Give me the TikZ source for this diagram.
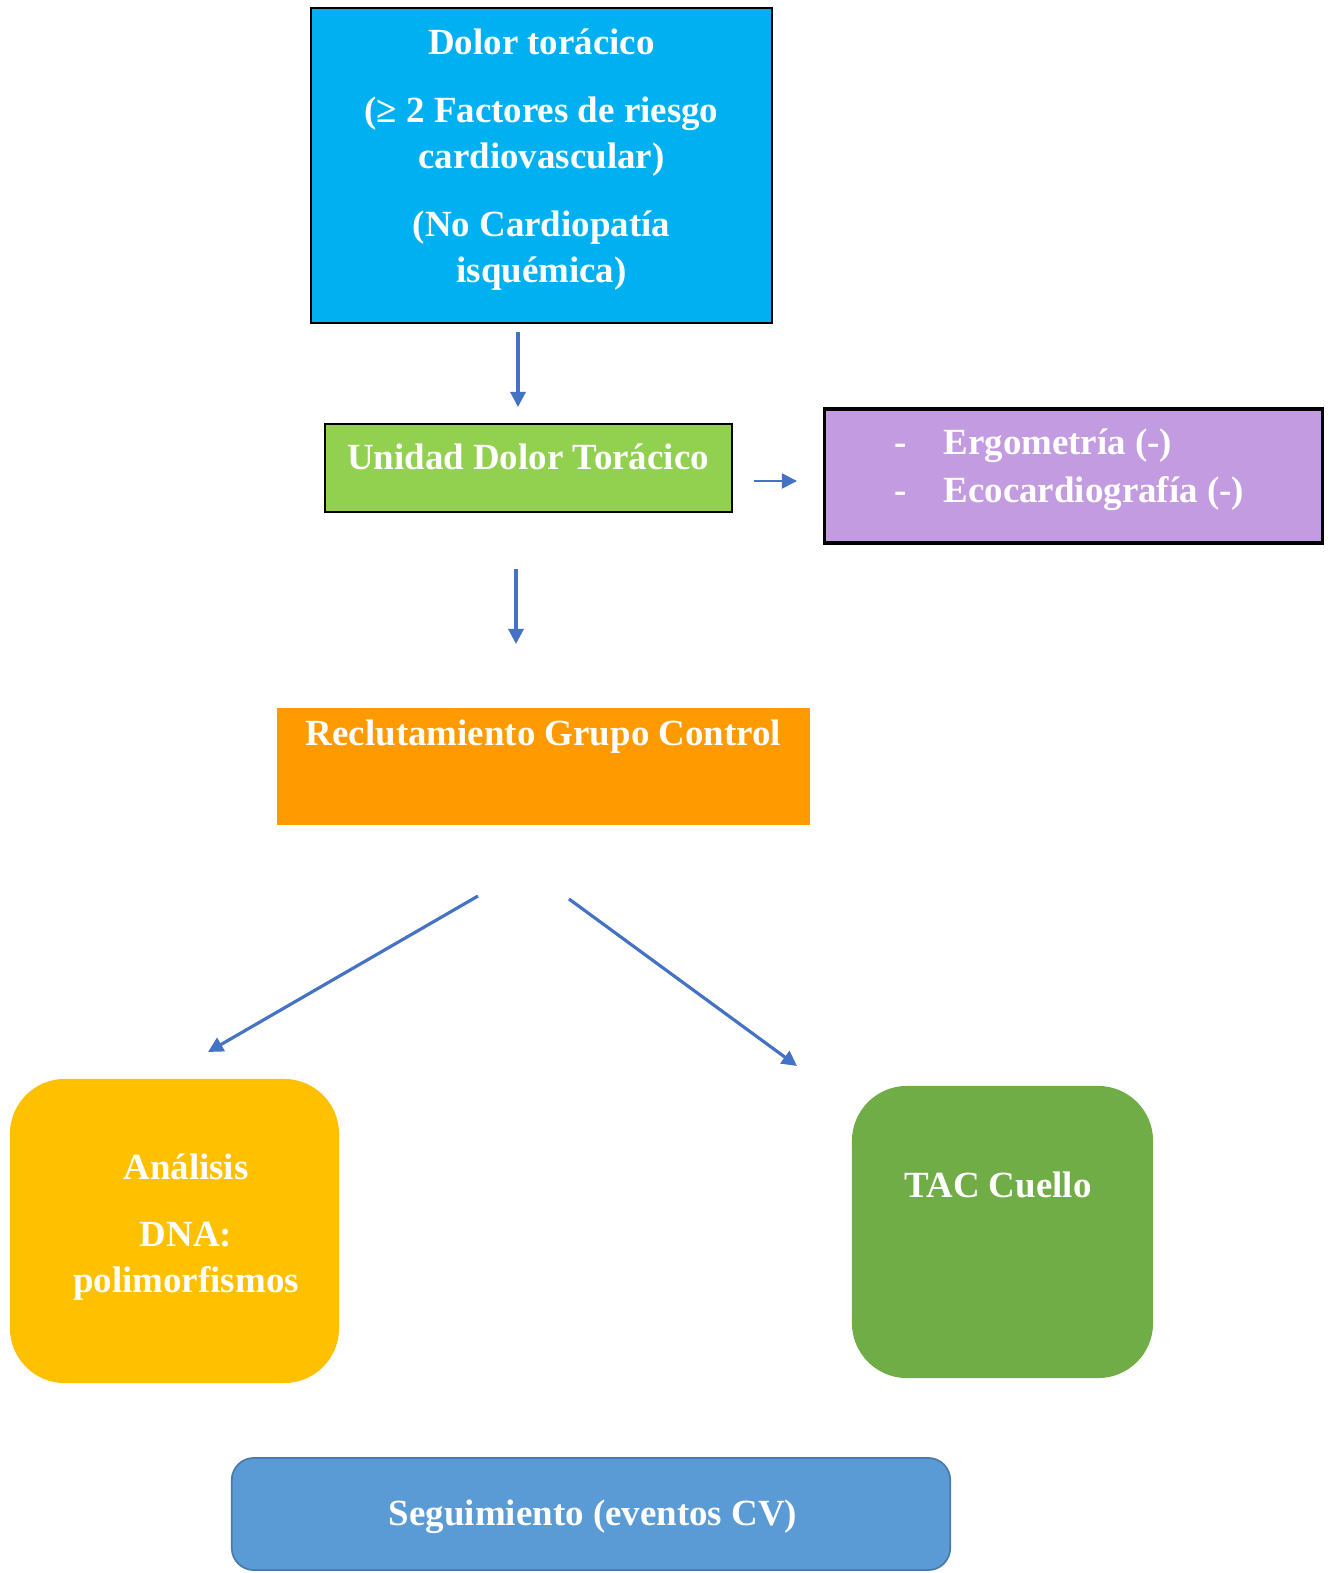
\documentclass[tikz,border=0pt]{standalone}
\usepackage{fontspec}
\setmainfont{Liberation Serif}
\usetikzlibrary{arrows.meta}

\definecolor{cajaazul}{HTML}{00B0F0}
\definecolor{cajaverde}{HTML}{92D050}
\definecolor{cajalila}{HTML}{C39BE0}
\definecolor{cajanaranja}{HTML}{FF9A00}
\definecolor{cajaamarilla}{HTML}{FFC000}
\definecolor{cajaverdeosc}{HTML}{70AD47}
\definecolor{cajaceleste}{HTML}{5B9BD5}
\definecolor{flecha}{HTML}{4472C4}

\tikzset{
  caja/.style={rectangle, inner sep=0pt, outer sep=0pt},
  marco/.style={caja, draw=black, line width=0.7pt},
  redonda/.style={caja, rounded corners=0.55cm},
  txt/.style={text=white, inner sep=0pt, align=center,
    font=\bfseries\fontsize{10.5}{13.1}\selectfont},
  flechita/.style={draw=flecha, line width=0.9pt, ->},
}

\begin{document}
\begin{tikzpicture}[x=0.01cm, y=-0.01cm, >={Triangle[length=4.3pt,width=4.3pt]}]
\useasboundingbox (0,0) rectangle (1335,1573);

% cajas
\node[marco, fill=cajaazul, minimum width=4.61cm, minimum height=3.15cm] (dolor) at (541.5,165.5) {};
\node[marco, fill=cajaverde, minimum width=4.07cm, minimum height=0.88cm] (unidad) at (528.5,468) {};
\node[marco, fill=cajalila, line width=0.9pt, minimum width=4.97cm, minimum height=1.34cm] (pruebas) at (1073.5,476) {};
\node[caja, fill=cajanaranja, minimum width=5.33cm, minimum height=1.17cm] (reclut) at (543.5,766.5) {};
\node[redonda, fill=cajaamarilla, minimum width=3.29cm, minimum height=3.04cm] (analisis) at (174.5,1231) {};
\node[redonda, fill=cajaverdeosc, minimum width=3.01cm, minimum height=2.92cm] (tac) at (1002.5,1232) {};
\node[caja, rounded corners=0.22cm, fill=cajaceleste, draw=cajaceleste!80!black, line width=0.5pt,
  minimum width=7.18cm, minimum height=1.12cm] (segui) at (591,1514) {};

% textos
\node[txt, anchor=north] (dolortxt) at (541.5,28) {Dolor torácico\\[6.3pt]
  (≥ 2 Factores de riesgo\\ cardiovascular)\\[6.3pt]
  (No Cardiopatía\\ isquémica)};
\node[txt, anchor=base] (unidadtxt) at (528,469) {Unidad Dolor Torácico};
\node[txt, anchor=north west, align=left] (pruebastxt) at (894,428)
  {\makebox[13.9pt][l]{-}Ergometría (-)\\[0.6pt] \makebox[13.9pt][l]{-}Ecocardiografía (-)};
\node[txt, anchor=base] (reclutxt) at (543.5,745) {Reclutamiento Grupo Control};
\node[txt, anchor=north] (analisistxt) at (186,1153) {Análisis\\[6pt] DNA:\\ polimorfismos};
\node[txt, anchor=base] (tactxt) at (998,1197) {TAC Cuello};
\node[txt, anchor=base] (seguitxt) at (593,1525) {Seguimiento (eventos CV)};

% flechas
\coordinate (f1a) at (518,332); \coordinate (f1b) at (518,407);
\coordinate (f2a) at (754,481); \coordinate (f2b) at (797,481);
\coordinate (f3a) at (516,569); \coordinate (f3b) at (516,644);
\coordinate (f4a) at (478,896); \coordinate (f4b) at (208,1052);
\coordinate (f5a) at (569,899); \coordinate (f5b) at (797,1066);
\draw[flechita] (f1a) -- (f1b);
\draw[flechita, line width=0.5pt] (f2a) -- (f2b);
\draw[flechita] (f3a) -- (f3b);
\draw[flechita] (f4a) -- (f4b);
\draw[flechita] (f5a) -- (f5b);
\end{tikzpicture}
\end{document}
